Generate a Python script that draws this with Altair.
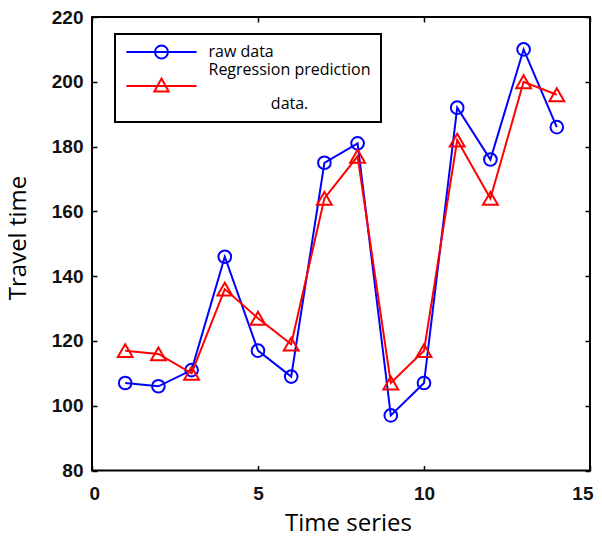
import altair as alt
import pandas as pd

# ---- data ----
time_index = list(range(1, 15))
raw_data = [107, 106, 111, 146, 117, 109, 175, 181, 97, 107, 192, 176, 210, 186]
regression_pred = [117, 116, 110, 136, 127, 119, 164, 177, 107, 117, 182, 164, 200, 196]
series_names = ["raw data", "Regression prediction data."]
series_colors = ["#0000ff", "#ff0000"]
x_ticks = [0, 5, 10, 15]
y_ticks = [80, 100, 120, 140, 160, 180, 200, 220]

raw_df = pd.DataFrame({"t": time_index, "value": raw_data, "series": series_names[0]})
pred_df = pd.DataFrame({"t": time_index, "value": regression_pred, "series": series_names[1]})

ZW = "\u200b"
NB = "\u00a0"
circ_path = "M-5.4,0L5.4,0M-1,0A1,1,0,1,1,1,0A1,1,0,1,1,-1,0"
tri_path = "M-5.4,0L5.4,0M0,-1.15L1.1,0.85L-1.1,0.85Z"

legend = alt.Legend(
    title=None, orient="none", legendX=23, legendY=17,
    padding=10, strokeColor="black", fillColor="white", cornerRadius=0,
    symbolSize=169, symbolOffset=28.5, labelOffset=39, labelLimit=400,
    labelFont="Open Sans", labelFontSize=16, labelColor="black",
    rowPadding=-9,
    symbolType=alt.ExprRef(expr="datum.value == 'raw data' ? '" + circ_path + "' : '" + tri_path + "'"),
    symbolStrokeColor=alt.ExprRef(expr="datum.value == 'raw data' ? '#0000ff' : '#ff0000'"),
    symbolFillColor="transparent",
    symbolStrokeWidth=2,
    labelExpr=("datum.label == 'raw data' ? ['raw data', 'Regression prediction'] : "
               "['" + ZW + "', '" + ZW + NB * 15 + "data.']"),
)

color = alt.Color("series:N", scale=alt.Scale(domain=series_names, range=series_colors), legend=legend)

lab_font = "Liberation Sans"
tick_dash = [5, 2000]


def xs():
    return alt.Scale(domain=[0, 15], nice=False, zero=False)


def ys():
    return alt.Scale(domain=[80, 220], nice=False, zero=False)


axis_bottom_labels = alt.Axis(
    orient="bottom", values=x_ticks, ticks=False, tickSize=0, domain=False,
    grid=True, gridDash=tick_dash, gridColor="black", gridWidth=1.5, gridOpacity=1,
    labelPadding=14, labelFont=lab_font, labelFontSize=19, labelFontWeight="bold",
    labelColor="#111111", labelFlush=True, labelFlushOffset=3, labelOverlap=False,
    title="Time series", titleFont="Open Sans", titleFontSize=24, titleFontWeight="normal",
    titleColor="black", titleX=256, titleY=59.5, titleBaseline="alphabetic",
)
axis_left_labels = alt.Axis(
    orient="left", values=y_ticks, ticks=False, tickSize=0, domain=False,
    grid=True, gridDash=tick_dash, gridColor="black", gridWidth=1.5, gridOpacity=1,
    labelPadding=9, labelFont=lab_font, labelFontSize=19, labelFontWeight="bold",
    labelColor="#111111", labelFlush=False, labelOverlap=False,
    title="Travel time", titleFont="Open Sans", titleFontSize=24, titleFontWeight="normal",
    titleColor="black", titleX=-67, titleY=220.5, titleAngle=270, titleBaseline="alphabetic",
)


def tick_axis(orient, vals):
    return alt.Axis(orient=orient, values=vals, labels=False, domain=False, ticks=False,
                    grid=True, gridDash=tick_dash, gridColor="black", gridWidth=1.5,
                    gridOpacity=1, title=None)


blue_line = alt.Chart(raw_df).mark_line(strokeWidth=2).encode(
    x=alt.X("t:Q", scale=xs(), axis=axis_bottom_labels),
    y=alt.Y("value:Q", scale=ys(), axis=axis_left_labels),
    color=color,
)
blue_pts = alt.Chart(raw_df).mark_point(shape="circle", size=160, strokeWidth=2, filled=False, opacity=1).encode(
    x=alt.X("t:Q", scale=xs(), axis=tick_axis("top", x_ticks)),
    y=alt.Y("value:Q", scale=ys(), axis=tick_axis("right", y_ticks)),
    color=color,
)
red_line = alt.Chart(pred_df).mark_line(strokeWidth=2).encode(
    x=alt.X("t:Q", scale=xs(), axis=None),
    y=alt.Y("value:Q", scale=ys(), axis=None),
    color=color,
)
red_pts = alt.Chart(pred_df).mark_point(shape="triangle-up", size=220, strokeWidth=2, filled=False, opacity=1).encode(
    x=alt.X("t:Q", scale=xs(), axis=None),
    y=alt.Y("value:Q", scale=ys(), axis=None),
    color=color,
)

chart = (
    alt.layer(blue_line, blue_pts, red_line, red_pts)
    .resolve_scale(x="independent", y="independent")
    .resolve_axis(x="independent", y="independent")
    .properties(
        width=498, height=453.5,
        padding={"left": 84, "top": 9, "right": 4, "bottom": 61.5},
        autosize=alt.AutoSizeParams(type="none"),
    )
    .configure_view(stroke="black", strokeWidth=2)
    .configure_legend(strokeWidth=2)
)

chart.save("out.html", embed_options={"renderer": "svg", "actions": False})
